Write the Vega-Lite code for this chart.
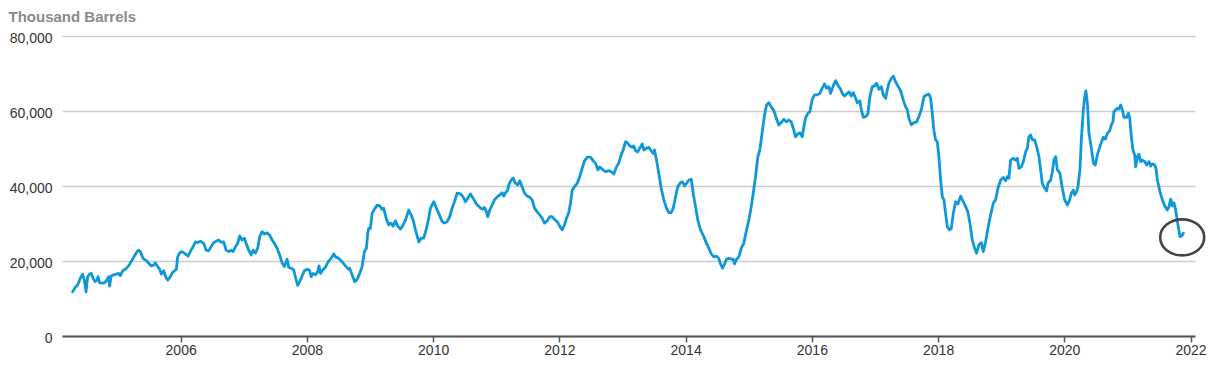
{
  "$schema": "https://vega.github.io/schema/vega-lite/v6.json",
  "width": 1133,
  "height": 300,
  "autosize": "none",
  "padding": {"left": 62, "top": 36, "right": 29, "bottom": 31},
  "background": "white",
  "config": {"view": {"stroke": null}, "font": "Liberation Sans"},
  "datasets": {
    "stocks": [
      {"year":2004.288,"stocks":11800},{"year":2004.331,"stocks":13000},{"year":2004.368,"stocks":13600},{"year":2004.410,"stocks":15400},{"year":2004.447,"stocks":16500},{"year":2004.474,"stocks":14900},{"year":2004.501,"stocks":11800},{"year":2004.526,"stocks":15800},{"year":2004.558,"stocks":16500},{"year":2004.585,"stocks":16700},{"year":2004.612,"stocks":15400},{"year":2004.643,"stocks":14500},{"year":2004.675,"stocks":14900},{"year":2004.691,"stocks":15800},{"year":2004.716,"stocks":14200},{"year":2004.754,"stocks":14100},{"year":2004.791,"stocks":14200},{"year":2004.822,"stocks":14700},{"year":2004.859,"stocks":15800},{"year":2004.875,"stocks":13300},{"year":2004.897,"stocks":16000},{"year":2004.938,"stocks":16300},{"year":2004.981,"stocks":16500},
      {"year":2005.017,"stocks":16700},{"year":2005.044,"stocks":16100},{"year":2005.081,"stocks":17400},{"year":2005.124,"stocks":17800},{"year":2005.176,"stocks":18700},{"year":2005.214,"stocks":19800},{"year":2005.255,"stocks":21000},{"year":2005.298,"stocks":22200},{"year":2005.330,"stocks":22900},{"year":2005.361,"stocks":22500},{"year":2005.404,"stocks":20700},{"year":2005.456,"stocks":20100},{"year":2005.493,"stocks":19400},{"year":2005.531,"stocks":18700},{"year":2005.572,"stocks":18900},{"year":2005.599,"stocks":19500},{"year":2005.636,"stocks":18500},{"year":2005.667,"stocks":17800},{"year":2005.694,"stocks":16500},{"year":2005.731,"stocks":17400},{"year":2005.762,"stocks":15800},{"year":2005.794,"stocks":14900},{"year":2005.837,"stocks":15800},{"year":2005.868,"stocks":16900},{"year":2005.905,"stocks":17400},{"year":2005.932,"stocks":17800},{"year":2005.952,"stocks":21100},{"year":2005.984,"stocks":22200},
      {"year":2006.022,"stocks":22500},{"year":2006.074,"stocks":21900},{"year":2006.117,"stocks":21300},{"year":2006.165,"stocks":22900},{"year":2006.197,"stocks":23800},{"year":2006.233,"stocks":25100},{"year":2006.269,"stocks":24900},{"year":2006.312,"stocks":25300},{"year":2006.365,"stocks":24700},{"year":2006.403,"stocks":22900},{"year":2006.444,"stocks":22700},{"year":2006.482,"stocks":23800},{"year":2006.523,"stocks":24900},{"year":2006.566,"stocks":25300},{"year":2006.602,"stocks":25600},{"year":2006.640,"stocks":25000},{"year":2006.681,"stocks":25100},{"year":2006.720,"stocks":22900},{"year":2006.761,"stocks":22500},{"year":2006.799,"stocks":22900},{"year":2006.830,"stocks":22500},{"year":2006.867,"stocks":23800},{"year":2006.903,"stocks":24700},{"year":2006.935,"stocks":26700},{"year":2006.973,"stocks":25600},
      {"year":2007.010,"stocks":26100},{"year":2007.041,"stocks":24500},{"year":2007.078,"stocks":22900},{"year":2007.116,"stocks":21600},{"year":2007.147,"stocks":22900},{"year":2007.184,"stocks":22100},{"year":2007.220,"stocks":23400},{"year":2007.252,"stocks":26500},{"year":2007.290,"stocks":27800},{"year":2007.326,"stocks":27200},{"year":2007.369,"stocks":27500},{"year":2007.410,"stocks":26900},{"year":2007.449,"stocks":25600},{"year":2007.485,"stocks":24700},{"year":2007.528,"stocks":23400},{"year":2007.569,"stocks":21600},{"year":2007.607,"stocks":19500},{"year":2007.643,"stocks":18500},{"year":2007.686,"stocks":20500},{"year":2007.712,"stocks":18300},{"year":2007.750,"stocks":18100},{"year":2007.791,"stocks":17600},{"year":2007.823,"stocks":15400},{"year":2007.854,"stocks":13500},{"year":2007.886,"stocks":14500},{"year":2007.924,"stocks":16000},{"year":2007.960,"stocks":17400},
      {"year":2008.003,"stocks":17800},{"year":2008.040,"stocks":17600},{"year":2008.067,"stocks":15800},{"year":2008.098,"stocks":16700},{"year":2008.135,"stocks":16300},{"year":2008.171,"stocks":17100},{"year":2008.193,"stocks":18700},{"year":2008.214,"stocks":16700},{"year":2008.250,"stocks":17600},{"year":2008.293,"stocks":18300},{"year":2008.336,"stocks":19800},{"year":2008.384,"stocks":20700},{"year":2008.425,"stocks":21900},{"year":2008.456,"stocks":21100},{"year":2008.504,"stocks":20700},{"year":2008.558,"stocks":19800},{"year":2008.610,"stocks":18700},{"year":2008.662,"stocks":17800},{"year":2008.678,"stocks":18100},{"year":2008.716,"stocks":16300},{"year":2008.758,"stocks":14500},{"year":2008.796,"stocks":15100},{"year":2008.837,"stocks":16700},{"year":2008.875,"stocks":18500},{"year":2008.911,"stocks":22500},{"year":2008.943,"stocks":23400},{"year":2008.964,"stocks":27400},{"year":2008.979,"stocks":28700},
      {"year":2009.006,"stocks":28700},{"year":2009.033,"stocks":32700},{"year":2009.070,"stocks":33800},{"year":2009.113,"stocks":34900},{"year":2009.154,"stocks":34700},{"year":2009.192,"stocks":33800},{"year":2009.217,"stocks":34100},{"year":2009.255,"stocks":31400},{"year":2009.296,"stocks":29600},{"year":2009.334,"stocks":30100},{"year":2009.366,"stocks":29300},{"year":2009.403,"stocks":30700},{"year":2009.439,"stocks":29300},{"year":2009.482,"stocks":28500},{"year":2009.525,"stocks":29600},{"year":2009.561,"stocks":30900},{"year":2009.613,"stocks":33600},{"year":2009.651,"stocks":32300},{"year":2009.683,"stocks":30900},{"year":2009.720,"stocks":28300},{"year":2009.772,"stocks":25100},{"year":2009.810,"stocks":26100},{"year":2009.851,"stocks":26100},{"year":2009.894,"stocks":28700},{"year":2009.930,"stocks":31400},{"year":2009.957,"stocks":34100},
      {"year":2010.010,"stocks":35800},{"year":2010.052,"stocks":34100},{"year":2010.089,"stocks":32700},{"year":2010.143,"stocks":30500},{"year":2010.179,"stocks":30100},{"year":2010.222,"stocks":30500},{"year":2010.263,"stocks":31800},{"year":2010.301,"stocks":34100},{"year":2010.338,"stocks":35800},{"year":2010.380,"stocks":38100},{"year":2010.433,"stocks":37900},{"year":2010.475,"stocks":37100},{"year":2010.512,"stocks":35800},{"year":2010.548,"stocks":36700},{"year":2010.591,"stocks":37900},{"year":2010.634,"stocks":36700},{"year":2010.686,"stocks":35200},{"year":2010.739,"stocks":34300},{"year":2010.777,"stocks":33800},{"year":2010.813,"stocks":34300},{"year":2010.845,"stocks":33100},{"year":2010.865,"stocks":31800},{"year":2010.897,"stocks":33600},{"year":2010.935,"stocks":34900},{"year":2010.971,"stocks":36300},
      {"year":2011.014,"stocks":37100},{"year":2011.055,"stocks":37600},{"year":2011.094,"stocks":38200},{"year":2011.119,"stocks":37300},{"year":2011.146,"stocks":38200},{"year":2011.182,"stocks":38900},{"year":2011.198,"stocks":40300},{"year":2011.236,"stocks":41600},{"year":2011.268,"stocks":42100},{"year":2011.304,"stocks":40700},{"year":2011.341,"stocks":40300},{"year":2011.372,"stocks":41400},{"year":2011.410,"stocks":39800},{"year":2011.447,"stocks":38100},{"year":2011.490,"stocks":37300},{"year":2011.531,"stocks":37000},{"year":2011.569,"stocks":36300},{"year":2011.605,"stocks":34100},{"year":2011.648,"stocks":33100},{"year":2011.689,"stocks":32300},{"year":2011.727,"stocks":31400},{"year":2011.764,"stocks":30100},{"year":2011.807,"stocks":30700},{"year":2011.848,"stocks":31800},{"year":2011.886,"stocks":31800},{"year":2011.922,"stocks":31100},{"year":2011.965,"stocks":30500},
      {"year":2012.006,"stocks":29300},{"year":2012.044,"stocks":28300},{"year":2012.081,"stocks":29600},{"year":2012.113,"stocks":31400},{"year":2012.149,"stocks":32900},{"year":2012.176,"stocks":35400},{"year":2012.203,"stocks":38900},{"year":2012.239,"stocks":39800},{"year":2012.282,"stocks":40700},{"year":2012.323,"stocks":42500},{"year":2012.361,"stocks":44700},{"year":2012.398,"stocks":46700},{"year":2012.441,"stocks":47700},{"year":2012.493,"stocks":47700},{"year":2012.536,"stocks":46700},{"year":2012.572,"stocks":46100},{"year":2012.609,"stocks":44300},{"year":2012.640,"stocks":45100},{"year":2012.678,"stocks":44500},{"year":2012.731,"stocks":43800},{"year":2012.783,"stocks":44100},{"year":2012.821,"stocks":43800},{"year":2012.862,"stocks":43200},{"year":2012.905,"stocks":45100},{"year":2012.941,"stocks":46100},{"year":2012.979,"stocks":48300},
      {"year":2013.011,"stocks":49600},{"year":2013.048,"stocks":51800},{"year":2013.084,"stocks":51400},{"year":2013.116,"stocks":50700},{"year":2013.154,"stocks":50300},{"year":2013.179,"stocks":50700},{"year":2013.206,"stocks":49400},{"year":2013.242,"stocks":49100},{"year":2013.274,"stocks":50100},{"year":2013.312,"stocks":51200},{"year":2013.338,"stocks":49600},{"year":2013.380,"stocks":50100},{"year":2013.417,"stocks":50300},{"year":2013.455,"stocks":49400},{"year":2013.487,"stocks":48700},{"year":2013.507,"stocks":49600},{"year":2013.539,"stocks":46900},{"year":2013.575,"stocks":43400},{"year":2013.613,"stocks":39400},{"year":2013.655,"stocks":36300},{"year":2013.697,"stocks":34100},{"year":2013.734,"stocks":32900},{"year":2013.772,"stocks":32900},{"year":2013.804,"stocks":34100},{"year":2013.840,"stocks":37100},{"year":2013.876,"stocks":39800},{"year":2013.919,"stocks":40900},{"year":2013.951,"stocks":41100},{"year":2013.983,"stocks":40000},
      {"year":2014.014,"stocks":40700},{"year":2014.051,"stocks":41600},{"year":2014.089,"stocks":41800},{"year":2014.120,"stocks":38100},{"year":2014.157,"stocks":34500},{"year":2014.193,"stocks":30900},{"year":2014.236,"stocks":28300},{"year":2014.288,"stocks":26500},{"year":2014.331,"stocks":24700},{"year":2014.368,"stocks":23400},{"year":2014.406,"stocks":21900},{"year":2014.447,"stocks":21100},{"year":2014.490,"stocks":21300},{"year":2014.526,"stocks":20700},{"year":2014.553,"stocks":19200},{"year":2014.585,"stocks":18100},{"year":2014.617,"stocks":19200},{"year":2014.648,"stocks":20500},{"year":2014.685,"stocks":20700},{"year":2014.723,"stocks":20500},{"year":2014.754,"stocks":20500},{"year":2014.775,"stocks":19200},{"year":2014.807,"stocks":20500},{"year":2014.843,"stocks":21100},{"year":2014.881,"stocks":23400},{"year":2014.922,"stocks":24700},{"year":2014.965,"stocks":28300},
      {"year":2015.002,"stocks":30900},{"year":2015.040,"stocks":34500},{"year":2015.071,"stocks":38100},{"year":2015.108,"stocks":42500},{"year":2015.144,"stocks":47800},{"year":2015.176,"stocks":49600},{"year":2015.214,"stocks":54500},{"year":2015.250,"stocks":58900},{"year":2015.282,"stocks":61600},{"year":2015.319,"stocks":62200},{"year":2015.357,"stocks":61100},{"year":2015.398,"stocks":60100},{"year":2015.436,"stocks":58100},{"year":2015.477,"stocks":56300},{"year":2015.515,"stocks":56900},{"year":2015.556,"stocks":57800},{"year":2015.599,"stocks":57100},{"year":2015.636,"stocks":57600},{"year":2015.674,"stocks":57100},{"year":2015.705,"stocks":55400},{"year":2015.742,"stocks":53100},{"year":2015.778,"stocks":53900},{"year":2015.810,"stocks":54200},{"year":2015.848,"stocks":53100},{"year":2015.873,"stocks":55800},{"year":2015.900,"stocks":58100},{"year":2015.937,"stocks":59400},{"year":2015.968,"stocks":59800},
      {"year":2016.006,"stocks":63100},{"year":2016.043,"stocks":64300},{"year":2016.086,"stocks":64300},{"year":2016.127,"stocks":64700},{"year":2016.165,"stocks":66100},{"year":2016.201,"stocks":67200},{"year":2016.233,"stocks":66100},{"year":2016.269,"stocks":66500},{"year":2016.296,"stocks":64700},{"year":2016.339,"stocks":66700},{"year":2016.376,"stocks":68100},{"year":2016.412,"stocks":66900},{"year":2016.455,"stocks":65800},{"year":2016.487,"stocks":64500},{"year":2016.518,"stocks":64000},{"year":2016.561,"stocks":64700},{"year":2016.593,"stocks":65100},{"year":2016.624,"stocks":64000},{"year":2016.656,"stocks":64900},{"year":2016.693,"stocks":63400},{"year":2016.720,"stocks":62200},{"year":2016.761,"stocks":62700},{"year":2016.783,"stocks":60300},{"year":2016.815,"stocks":58300},{"year":2016.851,"stocks":58500},{"year":2016.888,"stocks":59200},{"year":2016.919,"stocks":63800},{"year":2016.957,"stocks":66500},{"year":2016.994,"stocks":66700},
      {"year":2017.025,"stocks":67400},{"year":2017.062,"stocks":65800},{"year":2017.100,"stocks":66500},{"year":2017.132,"stocks":64300},{"year":2017.168,"stocks":63400},{"year":2017.195,"stocks":65600},{"year":2017.220,"stocks":67400},{"year":2017.258,"stocks":68700},{"year":2017.290,"stocks":69300},{"year":2017.326,"stocks":67800},{"year":2017.363,"stocks":66700},{"year":2017.406,"stocks":65400},{"year":2017.449,"stocks":62900},{"year":2017.485,"stocks":61100},{"year":2017.512,"stocks":60300},{"year":2017.537,"stocks":58100},{"year":2017.575,"stocks":56300},{"year":2017.616,"stocks":56900},{"year":2017.659,"stocks":57100},{"year":2017.696,"stocks":58500},{"year":2017.734,"stocks":60300},{"year":2017.775,"stocks":63800},{"year":2017.818,"stocks":64300},{"year":2017.854,"stocks":64500},{"year":2017.881,"stocks":63400},{"year":2017.908,"stocks":59400},{"year":2017.933,"stocks":54900},{"year":2017.960,"stocks":52300},{"year":2017.987,"stocks":51800},
      {"year":2018.013,"stocks":47800},{"year":2018.040,"stocks":41600},{"year":2018.067,"stocks":37100},{"year":2018.092,"stocks":36300},{"year":2018.119,"stocks":32700},{"year":2018.146,"stocks":29100},{"year":2018.182,"stocks":28300},{"year":2018.209,"stocks":28700},{"year":2018.241,"stocks":32700},{"year":2018.277,"stocks":35800},{"year":2018.314,"stocks":35200},{"year":2018.357,"stocks":37300},{"year":2018.399,"stocks":35800},{"year":2018.436,"stocks":34500},{"year":2018.472,"stocks":33100},{"year":2018.504,"stocks":30100},{"year":2018.542,"stocks":25600},{"year":2018.578,"stocks":23400},{"year":2018.610,"stocks":22100},{"year":2018.647,"stocks":24300},{"year":2018.685,"stocks":24900},{"year":2018.716,"stocks":22500},{"year":2018.753,"stocks":25100},{"year":2018.789,"stocks":28700},{"year":2018.832,"stocks":32300},{"year":2018.875,"stocks":35400},{"year":2018.911,"stocks":36300},{"year":2018.948,"stocks":39400},{"year":2018.991,"stocks":41600},
      {"year":2019.033,"stocks":42300},{"year":2019.070,"stocks":41400},{"year":2019.097,"stocks":42500},{"year":2019.122,"stocks":42100},{"year":2019.149,"stocks":46900},{"year":2019.192,"stocks":47400},{"year":2019.228,"stocks":46900},{"year":2019.255,"stocks":47400},{"year":2019.281,"stocks":44700},{"year":2019.319,"stocks":45100},{"year":2019.350,"stocks":46500},{"year":2019.387,"stocks":49100},{"year":2019.414,"stocks":50100},{"year":2019.439,"stocks":53100},{"year":2019.466,"stocks":53600},{"year":2019.493,"stocks":52300},{"year":2019.529,"stocks":52300},{"year":2019.561,"stocks":50500},{"year":2019.598,"stocks":47800},{"year":2019.624,"stocks":44300},{"year":2019.651,"stocks":40700},{"year":2019.688,"stocks":39400},{"year":2019.720,"stocks":38700},{"year":2019.740,"stocks":40700},{"year":2019.783,"stocks":41600},{"year":2019.810,"stocks":43800},{"year":2019.835,"stocks":46900},{"year":2019.862,"stocks":47800},{"year":2019.889,"stocks":44300},{"year":2019.930,"stocks":43400},{"year":2019.968,"stocks":39400},
      {"year":2020.005,"stocks":36300},{"year":2020.048,"stocks":34900},{"year":2020.084,"stocks":36300},{"year":2020.111,"stocks":38100},{"year":2020.143,"stocks":38900},{"year":2020.163,"stocks":37600},{"year":2020.195,"stocks":38500},{"year":2020.216,"stocks":39800},{"year":2020.247,"stocks":44300},{"year":2020.269,"stocks":52300},{"year":2020.301,"stocks":60300},{"year":2020.322,"stocks":63800},{"year":2020.342,"stocks":65400},{"year":2020.365,"stocks":62100},{"year":2020.390,"stocks":54100},{"year":2020.428,"stocks":50100},{"year":2020.460,"stocks":46100},{"year":2020.491,"stocks":45600},{"year":2020.523,"stocks":48300},{"year":2020.555,"stocks":50100},{"year":2020.591,"stocks":51800},{"year":2020.618,"stocks":53000},{"year":2020.650,"stocks":52500},{"year":2020.682,"stocks":54100},{"year":2020.718,"stocks":54700},{"year":2020.745,"stocks":56300},{"year":2020.770,"stocks":57100},{"year":2020.786,"stocks":59800},{"year":2020.813,"stocks":60300},{"year":2020.840,"stocks":60700},{"year":2020.865,"stocks":60500},{"year":2020.892,"stocks":61600},{"year":2020.919,"stocks":60300},{"year":2020.945,"stocks":58300},{"year":2020.987,"stocks":58300},
      {"year":2021.014,"stocks":59400},{"year":2021.035,"stocks":58300},{"year":2021.062,"stocks":53100},{"year":2021.087,"stocks":49600},{"year":2021.114,"stocks":48300},{"year":2021.130,"stocks":45100},{"year":2021.157,"stocks":47800},{"year":2021.182,"stocks":48500},{"year":2021.209,"stocks":46500},{"year":2021.236,"stocks":46900},{"year":2021.273,"stocks":46500},{"year":2021.304,"stocks":45600},{"year":2021.341,"stocks":46500},{"year":2021.368,"stocks":45300},{"year":2021.395,"stocks":45900},{"year":2021.431,"stocks":45600},{"year":2021.452,"stocks":44700},{"year":2021.474,"stocks":41600},{"year":2021.515,"stocks":38500},{"year":2021.553,"stocks":36300},{"year":2021.590,"stocks":34700},{"year":2021.632,"stocks":33600},{"year":2021.658,"stocks":34500},{"year":2021.685,"stocks":36500},{"year":2021.712,"stocks":34700},{"year":2021.737,"stocks":35500},{"year":2021.764,"stocks":33600},{"year":2021.780,"stocks":31800},{"year":2021.800,"stocks":29600},{"year":2021.832,"stocks":26500},{"year":2021.859,"stocks":26700},{"year":2021.886,"stocks":27400}
    ],
    "highlight": [{"year": 2021.867, "stocks": 26300}]
  },
  "layer": [
    {
      "data": {"name": "stocks"},
      "mark": {"type": "line", "color": "#0f98d8", "strokeWidth": 2.8, "strokeJoin": "round", "strokeCap": "round", "clip": true},
      "encoding": {
        "x": {
          "field": "year",
          "type": "quantitative",
          "scale": {"domain": [2004.12, 2022.07], "nice": false, "zero": false},
          "axis": {
            "values": [2006, 2008, 2010, 2012, 2014, 2016, 2018, 2020, 2022],
            "format": "d",
            "title": null,
            "grid": false,
            "domainColor": "#555555",
            "domainWidth": 2,
            "tickColor": "#555555",
            "tickWidth": 1.5,
            "tickSize": 6,
            "labelPadding": 1,
            "labelFont": "Liberation Sans",
            "labelFontSize": 14,
            "labelColor": "#333333"
          }
        },
        "y": {
          "field": "stocks",
          "type": "quantitative",
          "scale": {"domain": [0, 80000], "nice": false},
          "axis": {
            "values": [0, 20000, 40000, 60000, 80000],
            "format": ",d",
            "title": "Thousand Barrels",
            "titleAngle": 0,
            "titleX": -54,
            "titleY": -15,
            "titleAlign": "left",
            "titleBaseline": "alphabetic",
            "titleFont": "Liberation Sans",
            "titleFontSize": 15,
            "titleFontWeight": "bold",
            "titleColor": "#8a8a8a",
            "domain": false,
            "ticks": false,
            "grid": true,
            "gridColor": "#cccccc",
            "gridWidth": 1.5,
            "labelPadding": 10,
            "labelOffset": 2,
            "labelFont": "Liberation Sans",
            "labelFontSize": 14,
            "labelColor": "#333333"
          }
        }
      }
    },
    {
      "data": {"name": "highlight"},
      "mark": {
        "type": "point",
        "shape": "M-1,0A1,0.82,0,1,1,1,0A1,0.82,0,1,1,-1,0Z",
        "size": 1936,
        "filled": false,
        "stroke": "#444444",
        "strokeWidth": 2.6,
        "opacity": 1
      },
      "encoding": {
        "x": {"field": "year", "type": "quantitative"},
        "y": {"field": "stocks", "type": "quantitative"}
      }
    }
  ]
}
